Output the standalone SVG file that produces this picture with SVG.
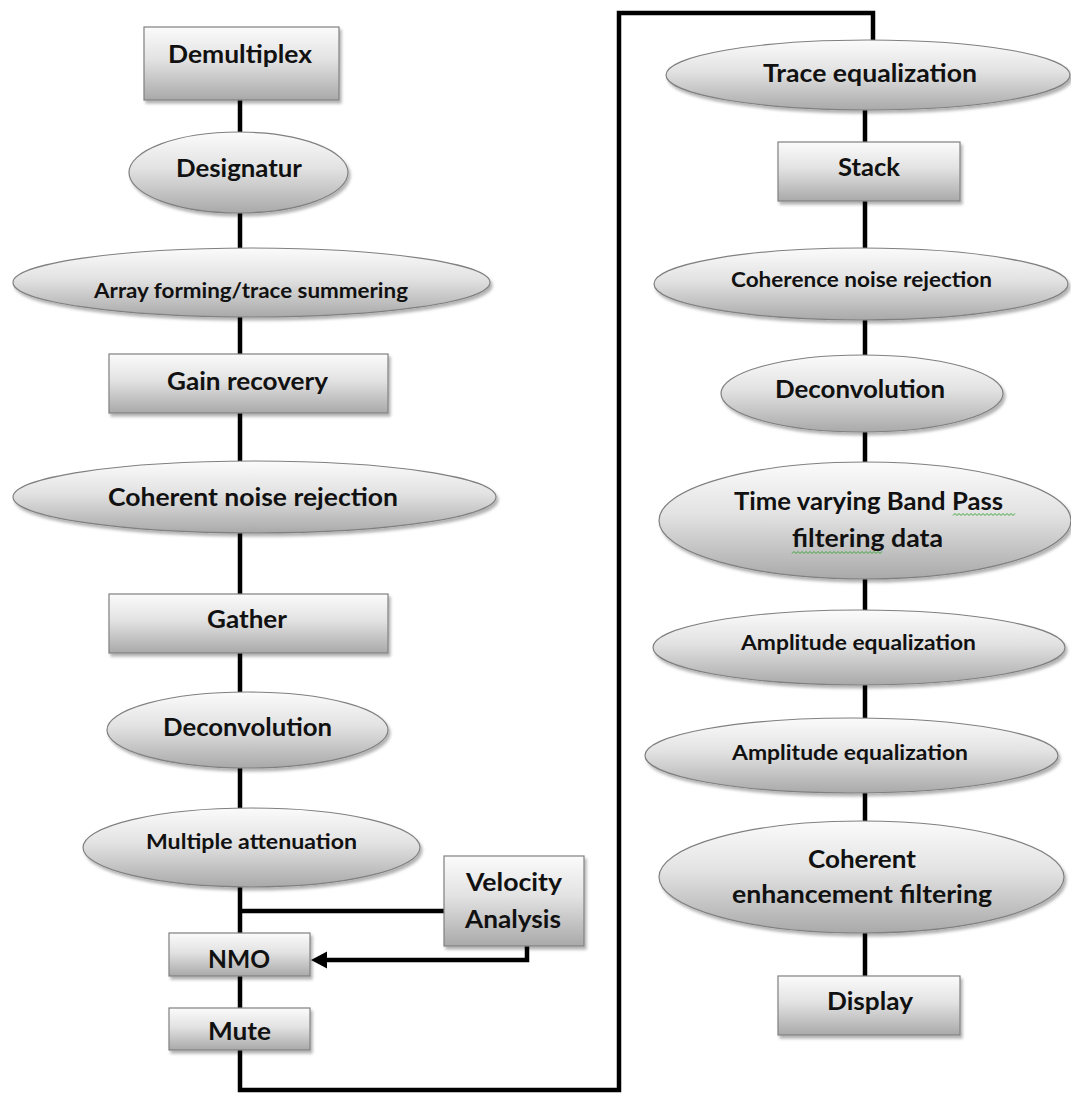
<svg xmlns="http://www.w3.org/2000/svg" width="1071" height="1093" viewBox="0 0 1071 1093">
<defs>
<linearGradient id="g" x1="0" y1="0" x2="0" y2="1">
<stop offset="0" stop-color="#fbfbfb"/>
<stop offset="0.45" stop-color="#e2e2e2"/>
<stop offset="1" stop-color="#a9a9a9"/>
</linearGradient>
<filter id="sh" x="-10%" y="-10%" width="125%" height="140%">
<feDropShadow dx="2" dy="3" stdDeviation="1.5" flood-color="#000" flood-opacity="0.3"/>
</filter>
<marker id="arr" markerUnits="userSpaceOnUse" markerWidth="18" markerHeight="18" refX="5" refY="8.5" orient="auto">
<path d="M0,0 L16,8.5 L0,17 z" fill="#000"/>
</marker>
<style>
.n{fill:url(#g);stroke:#808080;stroke-width:1.2;filter:url(#sh)}
.c{fill:none;stroke:#000;stroke-width:4.5;stroke-linejoin:miter}
.t{font-family:Lato,"Liberation Sans",sans-serif;font-weight:bold;fill:#111;text-anchor:middle;font-size:25px}
.s{font-size:21px}
.w{fill:none;stroke:#3aa53a;stroke-width:1}
</style>
</defs>
<rect width="1071" height="1093" fill="#fff"/>
<g id="connectors">
<path class="c" d="M240 100V132M240 213V248M240 317V354M240 413V461M240 533V594M240 653V692M240 768V808M240 887V933M240 911H444M240 976V1008"/>
<path class="c" d="M240 1050V1090H619V13H873V40"/>
<path class="c" d="M865 110V142M865 201V248M865 320V355M865 432V462M865 579V610M865 685V718M865 793V821M865 933V976"/>
<path class="c" d="M527 946V960H322" marker-end="url(#arr)"/>
</g>
<g id="demultiplex"><rect class="n" x="144" y="27" width="195" height="73"/><text class="t" x="240" y="63" textLength="144" lengthAdjust="spacingAndGlyphs">Demultiplex</text></g>
<g id="designatur"><ellipse class="n" cx="238.5" cy="172.5" rx="109.5" ry="40.5"/><text class="t" x="239" y="177" textLength="126" lengthAdjust="spacingAndGlyphs">Designatur</text></g>
<g id="array-forming"><ellipse class="n" cx="251.5" cy="282.5" rx="238.5" ry="34.5"/><text class="t s" x="251" y="298" textLength="314" lengthAdjust="spacingAndGlyphs">Array forming/trace summering</text></g>
<g id="gain-recovery"><rect class="n" x="109" y="354" width="279" height="59"/><text class="t" x="247.5" y="390" textLength="161" lengthAdjust="spacingAndGlyphs">Gain recovery</text></g>
<g id="coherent-noise-rejection"><ellipse class="n" cx="254.5" cy="497" rx="241.5" ry="36"/><text class="t" x="253" y="506" textLength="290" lengthAdjust="spacingAndGlyphs">Coherent noise rejection</text></g>
<g id="gather"><rect class="n" x="109" y="594" width="279" height="59"/><text class="t" x="247" y="627.5" textLength="80" lengthAdjust="spacingAndGlyphs">Gather</text></g>
<g id="deconvolution-1"><ellipse class="n" cx="247.5" cy="730" rx="140.5" ry="38"/><text class="t" x="247.5" y="736" textLength="169" lengthAdjust="spacingAndGlyphs">Deconvolution</text></g>
<g id="multiple-attenuation"><ellipse class="n" cx="251.5" cy="847.5" rx="168.5" ry="39.5"/><text class="t s" x="251.5" y="849" textLength="211" lengthAdjust="spacingAndGlyphs">Multiple attenuation</text></g>
<g id="velocity-analysis"><rect class="n" x="444" y="856" width="140" height="90"/><text class="t" x="514" y="891" textLength="96" lengthAdjust="spacingAndGlyphs">Velocity</text><text class="t" x="513" y="928" textLength="96" lengthAdjust="spacingAndGlyphs">Analysis</text></g>
<g id="nmo"><rect class="n" x="169" y="933" width="141" height="43"/><text class="t" x="239" y="968" textLength="62" lengthAdjust="spacingAndGlyphs">NMO</text></g>
<g id="mute"><rect class="n" x="169" y="1008" width="141" height="42"/><text class="t" x="239.5" y="1040" textLength="63" lengthAdjust="spacingAndGlyphs">Mute</text></g>
<g id="trace-equalization"><ellipse class="n" cx="868" cy="75" rx="202" ry="35"/><text class="t" x="870" y="82" textLength="214" lengthAdjust="spacingAndGlyphs">Trace equalization</text></g>
<g id="stack"><rect class="n" x="778" y="142" width="182" height="59"/><text class="t" x="869" y="176" textLength="62" lengthAdjust="spacingAndGlyphs">Stack</text></g>
<g id="coherence-noise-rejection"><ellipse class="n" cx="861" cy="284" rx="207" ry="36"/><text class="t s" x="861.5" y="287" textLength="261" lengthAdjust="spacingAndGlyphs">Coherence noise rejection</text></g>
<g id="deconvolution-2"><ellipse class="n" cx="862" cy="393.5" rx="141" ry="38.5"/><text class="t" x="860" y="398" textLength="170" lengthAdjust="spacingAndGlyphs">Deconvolution</text></g>
<g id="time-varying-bandpass"><ellipse class="n" cx="865" cy="520.5" rx="206" ry="58.5"/><text class="t" x="868.5" y="510" textLength="269" lengthAdjust="spacingAndGlyphs">Time varying Band Pass</text><text class="t" x="867.5" y="547" textLength="151" lengthAdjust="spacingAndGlyphs">filtering data</text>
<path class="w" d="M953 515.5l2-2l2 2l2-2l2 2l2-2l2 2l2-2l2 2l2-2l2 2l2-2l2 2l2-2l2 2l2-2l2 2l2-2l2 2l2-2l2 2l2-2l2 2l2-2l2 2l2-2l2 2l2-2l2 2l2-2l2 2l2-2"/>
<path class="w" d="M792 553.5l2-2l2 2l2-2l2 2l2-2l2 2l2-2l2 2l2-2l2 2l2-2l2 2l2-2l2 2l2-2l2 2l2-2l2 2l2-2l2 2l2-2l2 2l2-2l2 2l2-2l2 2l2-2l2 2l2-2l2 2l2-2l2 2l2-2l2 2l2-2l2 2l2-2l2 2l2-2l2 2l2-2l2 2l2-2l2 2l2-2"/></g>
<g id="amplitude-equalization-1"><ellipse class="n" cx="859" cy="647.5" rx="206" ry="37.5"/><text class="t s" x="858.5" y="650" textLength="235" lengthAdjust="spacingAndGlyphs">Amplitude equalization</text></g>
<g id="amplitude-equalization-2"><ellipse class="n" cx="851.5" cy="755.5" rx="206.5" ry="37.5"/><text class="t s" x="850" y="760" textLength="236" lengthAdjust="spacingAndGlyphs">Amplitude equalization</text></g>
<g id="coherent-enhancement"><ellipse class="n" cx="861.5" cy="877" rx="202.5" ry="56"/><text class="t" x="862" y="868" textLength="108" lengthAdjust="spacingAndGlyphs">Coherent</text><text class="t" x="862" y="903" textLength="260" lengthAdjust="spacingAndGlyphs">enhancement filtering</text></g>
<g id="display"><rect class="n" x="778" y="976" width="182" height="59"/><text class="t" x="870" y="1010" textLength="86" lengthAdjust="spacingAndGlyphs">Display</text></g>
</svg>
